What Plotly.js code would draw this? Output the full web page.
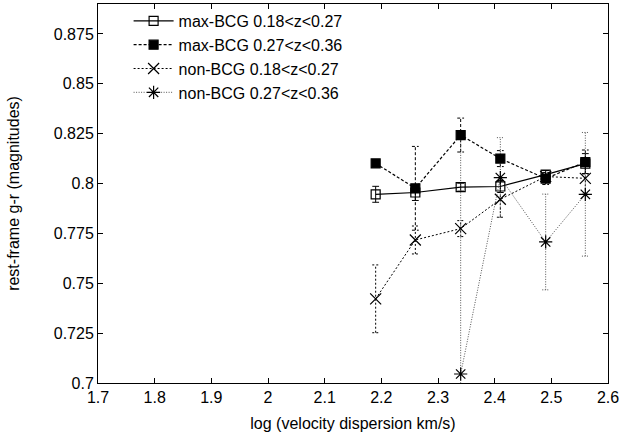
<!DOCTYPE html>
<html><head><meta charset="utf-8">
<script src="https://cdn.plot.ly/plotly-3.0.1.min.js"></script>
<style>html,body{margin:0;padding:0;background:#fff}#chart{width:634px;height:437px}</style>
</head><body><div id="chart"></div>
<script>
const logSigma = [2.19, 2.26, 2.34, 2.41, 2.49, 2.56];
const maxLow = [0.7946, 0.7955, 0.7982, 0.7985, 0.8045, 0.8100];
const maxLowErr = [0.004, 0.004, 0.002, 0.003, 0.002, 0.005];
const maxHigh = [0.8101, 0.7976, 0.8243, 0.8125, 0.8025, 0.8108];
const maxHighErr = [0.001, 0.021, 0.0085, 0.004, 0.003, 0.006];
const nonLow = [0.7422, 0.7717, 0.7774, 0.7921, 0.8035, 0.8026];
const nonLowErr = [0.017, 0.007, 0.004, 0.009, 0.003, 0.008];
const nonHigh = [null, null, 0.7045, 0.8030, 0.7707, 0.7946];
const nonHighErr = [null, null, 0.12, 0.020, 0.024, 0.031];
const names = ['max-BCG 0.18<z<0.27','max-BCG 0.27<z<0.36','non-BCG 0.18<z<0.27','non-BCG 0.27<z<0.36'];

function errTrace(xs, ys, es, dash, color){
  const cap = 0.006; const X=[], Y=[];
  xs.forEach((x,i)=>{ if(ys[i]==null) return; const lo=ys[i]-es[i], hi=ys[i]+es[i];
    X.push(x,x,null, x-cap,x+cap,null, x-cap,x+cap,null);
    Y.push(lo,hi,null, lo,lo,null, hi,hi,null); });
  return {x:X,y:Y,mode:'lines',line:{color:color,width:1,dash:dash},showlegend:false,hoverinfo:'skip'};
}
const series = [
  {y:maxLow, e:maxLowErr, dash:'solid', sym:'square-open', size:9, color:'#000', lw:1.2},
  {y:maxHigh, e:maxHighErr, dash:'3px,2px', sym:'square', size:9, color:'#000', lw:1.2},
  {y:nonLow, e:nonLowErr, dash:'2px,2px', sym:'x-thin-open', size:11, color:'#000', lw:1},
  {y:nonHigh, e:nonHighErr, dash:'1px,1.5px', sym:'asterisk-open', size:11, color:'#555', lw:1}
];
const traces = [];
series.forEach((s,i)=>{
  traces.push(errTrace(logSigma, s.y, s.e, s.dash, s.color));
});
series.forEach((s,i)=>{
  traces.push({x:logSigma, y:s.y, name:names[i], mode:'lines+markers', connectgaps:false,
    line:{color:s.color, width:s.lw, dash:s.dash},
    marker:{symbol:s.sym, size:s.size, color:'#000', line:{color:'#000', width:1.2}}});
});
const FONT = 'Liberation Sans, Arial, sans-serif';
const axisCommon = {showgrid:false, zeroline:false, showline:true, mirror:'ticks', linecolor:'#000', linewidth:1,
  ticks:'inside', ticklen:5, tickcolor:'#000', tickfont:{family:FONT, size:16, color:'#000'}};
const layout = {
  width:634, height:437, margin:{l:98, r:26, t:4, b:54, autoexpand:false},
  paper_bgcolor:'#fff', plot_bgcolor:'#fff',
  font:{family:FONT, size:16, color:'#000'},
  xaxis:Object.assign({}, axisCommon, {range:[1.7,2.6], dtick:0.1, tick0:1.7, automargin:false,
    title:{text:'log (velocity dispersion km/s)', standoff:12, font:{size:16}}}),
  yaxis:Object.assign({}, axisCommon, {range:[0.7,0.89], dtick:0.025, tick0:0.7, automargin:false,
    title:{text:'rest-frame g-r (magnitudes)', standoff:30, font:{size:16}}}),
  showlegend:true,
  legend:{x:0.06, y:1.0, xanchor:'left', yanchor:'top', bgcolor:'rgba(0,0,0,0)', font:{size:16},
    tracegroupgap:0, itemwidth:40}
};
Plotly.newPlot('chart', traces, layout, {displayModeBar:false, staticPlot:true});
</script></body></html>
